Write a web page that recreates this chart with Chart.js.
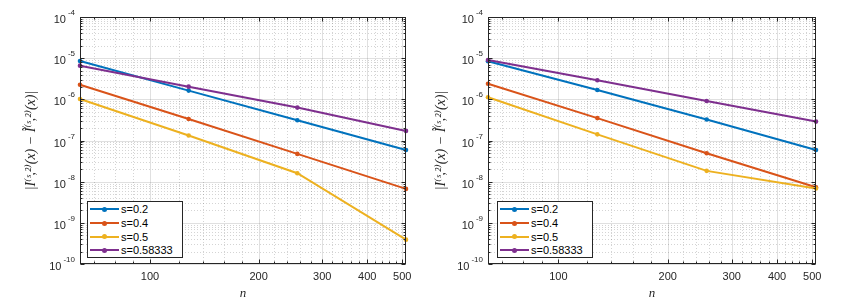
<!DOCTYPE html>
<html>
<head>
<meta charset="utf-8">
<script src="https://cdn.jsdelivr.net/npm/chart.js@4.4.1/dist/chart.umd.min.js"></script>
<style>
  body { margin: 0; background: #fff; width: 842px; height: 302px; overflow: hidden; position: relative; font-family: 'Liberation Sans', Arial, sans-serif; }
  .panel { position: absolute; top: 0; width: 421px; height: 302px; }
  .legend { position: absolute; width: 96px; height: 57px; border: 1px solid #262626; background: #fff; box-sizing: border-box; padding-top: 0.5px; }
  .legend .row { display: flex; align-items: center; height: 13.7px; font-size: 11px; color: #000; white-space: nowrap; }
  .legend .sample { position: relative; width: 29px; height: 2px; margin: 0 2px 0 2px; }
  .legend .dot { position: absolute; left: 12px; top: -1.5px; width: 5px; height: 5px; border-radius: 50%; }
</style>
</head>
<body>
<div class="panel" style="left:0"><canvas id="leftChart" width="421" height="302"></canvas></div>
<div class="panel" style="left:421px"><canvas id="rightChart" width="421" height="302"></canvas></div>
<div class="legend" id="leftLegend" style="left:87px; top:201px"></div>
<div class="legend" id="rightLegend" style="left:497px; top:201px"></div>
<script>
// grid sizes
const nValues = [64, 128, 256, 512];

// series
const seriesLabels = ['s=0.2', 's=0.4', 's=0.5', 's=0.58333'];
const seriesColors = ['#0072BD', '#D95319', '#EDB120', '#7E2F8E'];

// left panel errors
const leftS02 = [8.55e-6, 1.63e-6, 3.11e-7, 5.9e-8];
const leftS04 = [2.27e-6, 3.34e-7, 4.73e-8, 6.68e-9];
const leftS05 = [1.02e-6, 1.32e-7, 1.6e-8, 3.9e-10];
const leftS0583 = [6.58e-6, 2.03e-6, 6.3e-7, 1.71e-7];

// right panel errors
const rightS02 = [8.4e-6, 1.69e-6, 3.23e-7, 5.9e-8];
const rightS04 = [2.4e-6, 3.5e-7, 4.9e-8, 7.3e-9];
const rightS05 = [1.12e-6, 1.41e-7, 1.83e-8, 6.8e-9];
const rightS0583 = [9.0e-6, 2.9e-6, 9.1e-7, 2.88e-7];

// ticks
const xMajorTicks = [100, 200, 300, 400, 500];
const xMinorTicks = [70, 80, 90, 120, 140, 160, 180, 220, 240, 260, 280, 320, 340, 360, 380, 420, 440, 460, 480];
const yExponents = [-10, -9, -8, -7, -6, -5, -4];
const yMinorMantissas = [2, 3, 4, 5, 6, 7, 8, 9];

const isDecade = v => Math.abs(Math.log10(v) - Math.round(Math.log10(v))) < 1e-9;
const isMajorX = v => xMajorTicks.includes(v);

const yTickValues = [];
yExponents.forEach((e, i) => {
    yTickValues.push(Math.pow(10, e));
    if (i < yExponents.length - 1) {
        yMinorMantissas.forEach(m => yTickValues.push(Number((m * Math.pow(10, e)).toPrecision(3))));
    }
});
const xTickValues = [...xMinorTicks, ...xMajorTicks].sort((a, b) => a - b);

const axisColor = '#262626';
const sansFont = "'Liberation Sans', Arial, sans-serif";

// MATLAB style grid, box, inward ticks and 10^k labels
const matlabAxes = {
    id: 'matlabAxes',
    beforeDatasetsDraw(chart) {
        const { ctx, chartArea: a, scales: { x, y } } = chart;
        const vLine = v => { const px = Math.round(x.getPixelForValue(v)) + 0.5; ctx.moveTo(px, a.top); ctx.lineTo(px, a.bottom); };
        const hLine = v => { const py = Math.round(y.getPixelForValue(v)) + 0.5; ctx.moveTo(a.left, py); ctx.lineTo(a.right, py); };
        ctx.save();
        ctx.lineWidth = 1;
        ctx.setLineDash([1, 2]);
        ctx.strokeStyle = 'rgba(38,38,38,0.2)';
        ctx.beginPath();
        x.ticks.filter(t => !isMajorX(t.value)).forEach(t => vLine(t.value));
        y.ticks.filter(t => !isDecade(t.value)).forEach(t => hLine(t.value));
        ctx.stroke();
        ctx.setLineDash([]);
        ctx.strokeStyle = 'rgba(38,38,38,0.14)';
        ctx.beginPath();
        x.ticks.filter(t => isMajorX(t.value)).forEach(t => vLine(t.value));
        y.ticks.filter(t => isDecade(t.value)).forEach(t => hLine(t.value));
        ctx.stroke();
        ctx.restore();
    },
    afterDatasetsDraw(chart) {
        const { ctx, chartArea: a, scales: { x, y } } = chart;
        const L = Math.round(a.left) + 0.5, R = Math.round(a.right) - 0.5;
        const T = Math.round(a.top) + 0.5, B = Math.round(a.bottom) - 0.5;
        ctx.save();
        ctx.strokeStyle = axisColor;
        ctx.lineWidth = 1;
        ctx.beginPath();
        x.ticks.forEach(t => {
            const len = isMajorX(t.value) ? 4 : 2;
            const px = Math.round(x.getPixelForValue(t.value)) + 0.5;
            ctx.moveTo(px, B); ctx.lineTo(px, B - len);
            ctx.moveTo(px, T); ctx.lineTo(px, T + len);
        });
        y.ticks.forEach(t => {
            const len = isDecade(t.value) ? 4 : 2;
            const py = Math.round(y.getPixelForValue(t.value)) + 0.5;
            ctx.moveTo(L, py); ctx.lineTo(L + len, py);
            ctx.moveTo(R, py); ctx.lineTo(R - len, py);
        });
        ctx.stroke();
        ctx.strokeRect(L, T, R - L, B - T);

        // y tick labels as 10 with a raised exponent
        ctx.fillStyle = axisColor;
        ctx.textBaseline = 'alphabetic';
        y.ticks.filter(t => isDecade(t.value)).forEach(t => {
            const py = y.getPixelForValue(t.value);
            const exp = String(Math.round(Math.log10(t.value)));
            ctx.font = '8px ' + sansFont;
            const expW = ctx.measureText(exp).width;
            const expX = a.left - 5 - expW;
            ctx.textAlign = 'left';
            ctx.fillText(exp, expX, py - 2);
            ctx.font = '11px ' + sansFont;
            ctx.textAlign = 'right';
            ctx.fillText('10', expX - 2, py + 6);
        });
        ctx.restore();
    }
};

function makeDatasets(seriesList) {
    return seriesList.map((vals, i) => ({
        label: seriesLabels[i],
        data: nValues.map((n, k) => ({ x: n, y: vals[k] })),
        borderColor: seriesColors[i],
        backgroundColor: seriesColors[i],
        borderWidth: 2,
        pointRadius: 2.3,
        pointBorderWidth: 0,
        pointBackgroundColor: seriesColors[i],
        order: seriesList.length - i,
        clip: false
    }));
}

function makeChart(canvasId, seriesList, pad) {
    return new Chart(document.getElementById(canvasId), {
        type: 'line',
        data: { datasets: makeDatasets(seriesList) },
        options: {
            responsive: false,
            animation: false,
            devicePixelRatio: 1,
            layout: { padding: { left: pad.left, right: pad.right, top: 17, bottom: 0 } },
            plugins: { legend: { display: false }, tooltip: { enabled: false } },
            scales: {
                x: {
                    type: 'logarithmic',
                    min: 64,
                    max: 512,
                    afterBuildTicks: scale => { scale.ticks = xTickValues.map(v => ({ value: v })); },
                    afterFit: scale => { scale.height = 38; },
                    grid: { display: false, drawTicks: false },
                    border: { display: false },
                    ticks: {
                        autoSkip: false,
                        maxRotation: 0,
                        padding: 6,
                        color: axisColor,
                        font: { family: sansFont, size: 11 },
                        callback: v => isMajorX(v) ? String(v) : ''
                    },
                    title: {
                        display: true,
                        text: 'n',
                        color: axisColor,
                        padding: { top: 0, bottom: 1 },
                        font: { family: "'Liberation Serif', 'DejaVu Serif', serif", style: 'italic', size: 13 }
                    }
                },
                y: {
                    type: 'logarithmic',
                    min: 1e-10,
                    max: 1e-4,
                    afterBuildTicks: scale => { scale.ticks = yTickValues.map(v => ({ value: v })); },
                    afterFit: scale => { scale.width = pad.axis; },
                    grid: { display: false, drawTicks: false },
                    border: { display: false },
                    ticks: {
                        autoSkip: false,
                        padding: 8,
                        callback: () => ''
                    },
                    title: {
                        display: true,
                        text: '|I⁽ˢ,²⁾(x) − Ĩ⁽ˢ,²⁾(x)|',
                        color: axisColor,
                        padding: { top: 0, bottom: 0 },
                        font: { family: "'Liberation Serif', 'DejaVu Serif', serif", style: 'italic', size: 14 }
                    }
                }
            }
        },
        plugins: [matlabAxes]
    });
}

function buildLegend(el, chart) {
    chart.data.datasets.forEach(ds => {
        const row = document.createElement('div');
        row.className = 'row';
        const sample = document.createElement('span');
        sample.className = 'sample';
        sample.style.background = ds.borderColor;
        const dot = document.createElement('span');
        dot.className = 'dot';
        dot.style.background = ds.borderColor;
        sample.appendChild(dot);
        const text = document.createElement('span');
        text.textContent = ds.label;
        row.appendChild(sample);
        row.appendChild(text);
        el.appendChild(row);
    });
}

const leftChart = makeChart('leftChart', [leftS02, leftS04, leftS05, leftS0583], { left: 23, right: 15, axis: 57 });
const rightChart = makeChart('rightChart', [rightS02, rightS04, rightS05, rightS0583], { left: 12, right: 26, axis: 55 });
buildLegend(document.getElementById('leftLegend'), leftChart);
buildLegend(document.getElementById('rightLegend'), rightChart);
</script>
</body>
</html>
